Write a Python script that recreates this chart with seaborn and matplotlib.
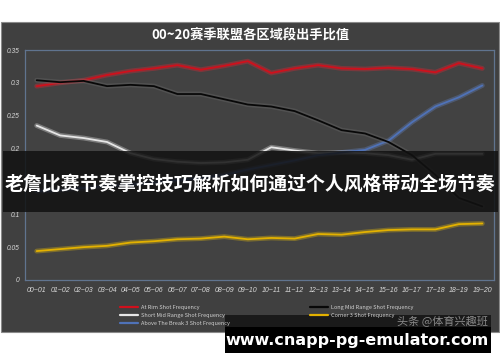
import matplotlib

matplotlib.use("Agg")
import matplotlib.pyplot as plt
import matplotlib.patheffects as pe
from matplotlib.patches import Rectangle
import pandas as pd
import seaborn as sns

seasons = ["00~01", "01~02", "02~03", "03~04", "04~05", "05~06", "06~07", "07~08", "08~09", "09~10",
           "10~11", "11~12", "12~13", "13~14", "14~15", "15~16", "16~17", "17~18", "18~19", "19~20"]
at_rim = [0.295, 0.300, 0.304, 0.312, 0.318, 0.322, 0.327, 0.320, 0.326, 0.333,
          0.315, 0.322, 0.327, 0.322, 0.321, 0.323, 0.321, 0.316, 0.330, 0.322]
long_mid = [0.304, 0.301, 0.303, 0.295, 0.297, 0.295, 0.283, 0.283, 0.275, 0.267,
            0.264, 0.257, 0.243, 0.228, 0.223, 0.210, 0.190, 0.160, 0.125, 0.112]
short_mid = [0.235, 0.220, 0.216, 0.210, 0.193, 0.184, 0.180, 0.178, 0.179, 0.183,
             0.202, 0.197, 0.193, 0.194, 0.193, 0.190, 0.183, 0.192, 0.192, 0.192]
above_break = [0.135, 0.137, 0.140, 0.143, 0.145, 0.148, 0.152, 0.155, 0.160, 0.168,
               0.175, 0.182, 0.190, 0.194, 0.198, 0.212, 0.240, 0.264, 0.278, 0.296]
corner3 = [0.044, 0.047, 0.050, 0.052, 0.057, 0.059, 0.062, 0.063, 0.066, 0.062,
           0.064, 0.063, 0.070, 0.069, 0.073, 0.076, 0.077, 0.077, 0.085, 0.086]
y_ticks = [0, 0.05, 0.1, 0.15, 0.2, 0.25, 0.3, 0.35]
y_tick_labels = ["0", "0.05", "0.1", "0.15", "0.2", "0.25", "0.3", "0.35"]

series = {
    "At Rim Shot Frequency": at_rim,
    "Short Mid Range Shot Frequency": short_mid,
    "Above The Break 3 Shot Frequency": above_break,
    "Long Mid Range Shot Frequency": long_mid,
    "Corner 3 Shot Frequency": corner3,
}
colors = {
    "At Rim Shot Frequency": "#d0101c",
    "Short Mid Range Shot Frequency": "#e6e6e6",
    "Above The Break 3 Shot Frequency": "#4f72b8",
    "Long Mid Range Shot Frequency": "#080808",
    "Corner 3 Shot Frequency": "#e3b100",
}
glow = {
    "At Rim Shot Frequency": "#ff2030",
    "Short Mid Range Shot Frequency": "#ffffff",
    "Above The Break 3 Shot Frequency": "#6a8fd8",
    "Long Mid Range Shot Frequency": "#777777",
    "Corner 3 Shot Frequency": "#ffd000",
}

df = pd.DataFrame(
    [(s, name, v) for name, vals in series.items() for s, v in zip(seasons, vals)],
    columns=["season", "series", "value"],
)

sns.set_style("dark")
plt.rcParams["font.family"] = ["Noto Sans CJK SC", "DejaVu Sans"]

fig = plt.figure(figsize=(5, 3.62), dpi=100)
fig.patch.set_facecolor("white")
W, H = 500, 362

# chart panel
fig.patches.append(Rectangle((1 / W, 1 - 332 / H), 498 / W, 310 / H, transform=fig.transFigure,
                             facecolor="#404040", edgecolor="#8a8a8a", linewidth=0.8, zorder=-1))

ax = fig.add_axes([25 / W, 1 - 280 / H, 469 / W, 230 / H])
ax.set_facecolor("#424242")
sns.lineplot(data=df, x="season", y="value", hue="series", hue_order=list(series),
             palette=colors, sort=False, linewidth=1.3, ax=ax, legend=False)
for line, name in zip(ax.lines, series):
    line.set_path_effects([pe.Stroke(linewidth=3.5, foreground=glow[name], alpha=0.3), pe.Normal()])

ax.set_xlim(-0.5, len(seasons) - 0.5)
ax.set_ylim(0, 0.35)
ax.set_yticks(y_ticks)
ax.set_yticklabels(y_tick_labels, fontsize=4.8, color="#d8d8d8", style="italic", family="Liberation Sans")
ax.set_xticks(range(len(seasons)))
ax.set_xticklabels(seasons, fontsize=5, color="#d8d8d8", style="italic", family="Liberation Sans")
ax.tick_params(length=0, pad=5)
ax.tick_params(axis="y", pad=4)
ax.set_xlabel("")
ax.set_ylabel("")
ax.grid(False)
for sp in ax.spines.values():
    sp.set_visible(True)
    sp.set_color("#60748f")
    sp.set_linewidth(0.9)

fig.text(250 / W, 1 - 36 / H, "00~20赛季联盟各区域段出手比值", ha="center", va="center",
         fontsize=9.5, fontweight="bold", style="italic", color="white")

handles = [plt.Line2D([], [], color=colors[n], linewidth=1.6) for n in series]
leg = fig.legend(handles, list(series), ncol=2, loc="upper left",
                 bbox_to_anchor=(115 / W, 1 - 300 / H), frameon=False, fontsize=4,
                 labelcolor="#d0d0d0", handlelength=3.2, handletextpad=0.5,
                 columnspacing=14.5, labelspacing=0.5)

# overlay banner
fig.patches.append(Rectangle((3 / W, 1 - 212 / H), 495 / W, 61 / H, transform=fig.transFigure,
                             facecolor="#111111", alpha=0.85, edgecolor="none", zorder=5))
fig.text(250 / W, 1 - 184 / H, "老詹比赛节奏掌控技巧解析如何通过个人风格带动全场节奏", ha="center",
         va="center", fontsize=13.6, fontweight="bold", color="white", zorder=6)

# watermark / url box
fig.patches.append(Rectangle((225 / W, 1 - 327 / H), 266 / W, 12 / H, transform=fig.transFigure,
                             facecolor="#111111", alpha=0.8, edgecolor="none", zorder=5))
fig.patches.append(Rectangle((225 / W, 1 - 353 / H), 266 / W, 26 / H, transform=fig.transFigure,
                             facecolor="black", edgecolor="none", zorder=5))
fig.text(488 / W, 1 - 322 / H, "头条 @体育兴趣班", ha="right", va="center", fontsize=8,
         color="#8a8a8a", zorder=6)
fig.text(357 / W, 1 - 340 / H, "www.cnapp-pg-emulator.com", ha="center", va="center",
         fontsize=11.5, fontweight="bold", color="white", family="DejaVu Sans", zorder=6)

fig.savefig("out.png", dpi=100)
plt.close(fig)
